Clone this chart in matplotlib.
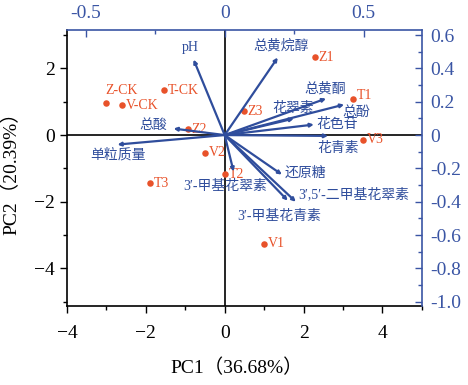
import matplotlib
matplotlib.use("Agg")
import matplotlib.pyplot as plt
from matplotlib.ticker import MultipleLocator

plt.rcParams['font.family'] = ['Liberation Serif', 'Noto Sans CJK SC']

# sample scores (PC1, PC2)
samples = ["Z-CK", "V-CK", "T-CK", "Z2", "Z3", "Z1", "T1", "V3", "V2", "T2", "T3", "V1"]
pc1 = [-3.0, -2.61, -1.55, -0.94, 0.48, 2.28, 3.25, 3.5, -0.51, 0.01, -1.9, 0.99]
pc2 = [0.95, 0.89, 1.34, 0.17, 0.71, 2.33, 1.07, -0.14, -0.53, -1.17, -1.45, -3.26]

# variable loadings
variables = ["pH", "总黄烷醇", "总黄酮", "总酚", "花翠素", "花色苷", "花青素", "还原糖",
             "3′,5′-二甲基花翠素", "3′-甲基花青素", "3′-甲基花翠素", "总酸", "单粒质量"]
load1 = [-0.112, 0.191, 0.365, 0.43, 0.249, 0.321, 0.372, 0.206, 0.256, 0.227, 0.032, -0.184, -0.386]
load2 = [0.453, 0.465, 0.219, 0.183, 0.099, 0.063, -0.005, -0.237, -0.40, -0.393, -0.219, 0.039, -0.057]

# where the variable names sit (loading axes units)
var_label_pos = [(-0.123, 0.526), (0.202, 0.538), (0.361, 0.279), (0.473, 0.133), (0.245, 0.159),
                 (0.404, 0.063), (0.408, -0.081), (0.292, -0.231), (0.466, -0.357), (0.195, -0.489),
                 (0.0, -0.31), (-0.256, 0.057), (-0.383, -0.117)]

red = "#e8522a"
blue = "#2f4d9c"
axblue = "#3a55a4"

fig = plt.figure(figsize=(4.68, 3.85), dpi=100)
rect = [0.143, 0.204, 0.7585, 0.718]
ax = fig.add_axes(rect)
ax.set_xlim(-4, 5)
ax.set_ylim(-5.14, 3.15)

ax.axhline(0, color="black", lw=1.2, zorder=1)
ax.axvline(0, color="black", lw=1.2, zorder=1)

ax.scatter(pc1, pc2, s=22, color=red, zorder=4, linewidths=0)
for name, x, y in zip(samples, pc1, pc2):
    if name == "Z-CK":
        off = (11, 9.5)
        ha = "center"
    elif name == "T1":
        off = (3, 2.5)
        ha = "left"
    else:
        off = (3, 0)
        ha = "left"
    ax.annotate(name, (x, y), xytext=off, textcoords="offset points",
                ha=ha, va="center", color=red, fontsize=10)

ax.set_xticks([-4, -2, 0, 2, 4])
ax.set_yticks([-4, -2, 0, 2])
ax.xaxis.set_minor_locator(MultipleLocator(1))
ax.yaxis.set_minor_locator(MultipleLocator(1))
ax.tick_params(which="both", direction="out", labelsize=14, width=1)
ax.tick_params(which="major", length=5)
ax.tick_params(which="minor", length=3)
ax.tick_params(axis="x", pad=8)
ax.spines["top"].set_visible(False)
ax.spines["right"].set_visible(False)
for s in ["bottom", "left"]:
    ax.spines[s].set_linewidth(1.2)
ax.set_xlabel("PC1（36.68%）", fontsize=14)
ax.set_ylabel("PC2（20.39%）", fontsize=14)
ax.xaxis.set_label_coords(0.479, -0.19)
ax.yaxis.set_label_coords(-0.13, 0.5)

# loadings axes on top / right
k = 0.142
ax2 = fig.add_axes(rect, facecolor="none")
ax2.set_xlim(-4 * k, 5 * k)
ax2.set_ylim(-5.14 / 5, 3.15 / 5)
ax2.xaxis.tick_top()
ax2.yaxis.tick_right()
ax2.spines["bottom"].set_visible(False)
ax2.spines["left"].set_visible(False)
for s in ["top", "right"]:
    ax2.spines[s].set_color(axblue)
    ax2.spines[s].set_linewidth(1.2)
ax2.set_xticks([-0.5, 0, 0.5])
ax2.set_xticklabels(["-0.5", "0", "0.5"])
ax2.xaxis.set_minor_locator(MultipleLocator(0.25))
ax2.set_yticks([0.6, 0.4, 0.2, 0, -0.2, -0.4, -0.6, -0.8, -1.0])
ax2.set_yticklabels(["0.6", "0.4", "0.2", "0", "-0.2", "-0.4", "-0.6", "-0.8", "-1.0"])
ax2.yaxis.set_minor_locator(MultipleLocator(0.1))
ax2.tick_params(which="both", direction="in", colors=axblue, labelsize=14, width=1)
ax2.tick_params(which="major", length=5)
ax2.tick_params(which="minor", length=3)
ax2.tick_params(axis="x", pad=6)
ax2.tick_params(axis="y", pad=6)

for name, x, y, (lx, ly) in zip(variables, load1, load2, var_label_pos):
    ax2.annotate("", xy=(x, y), xytext=(0, 0),
                 arrowprops=dict(arrowstyle="-|>", color=blue, lw=1.6,
                                 mutation_scale=5, shrinkA=0, shrinkB=0))
    ax2.text(lx, ly, name, color=blue, fontsize=10, ha="center", va="center")

fig.savefig("out.png", dpi=100)
